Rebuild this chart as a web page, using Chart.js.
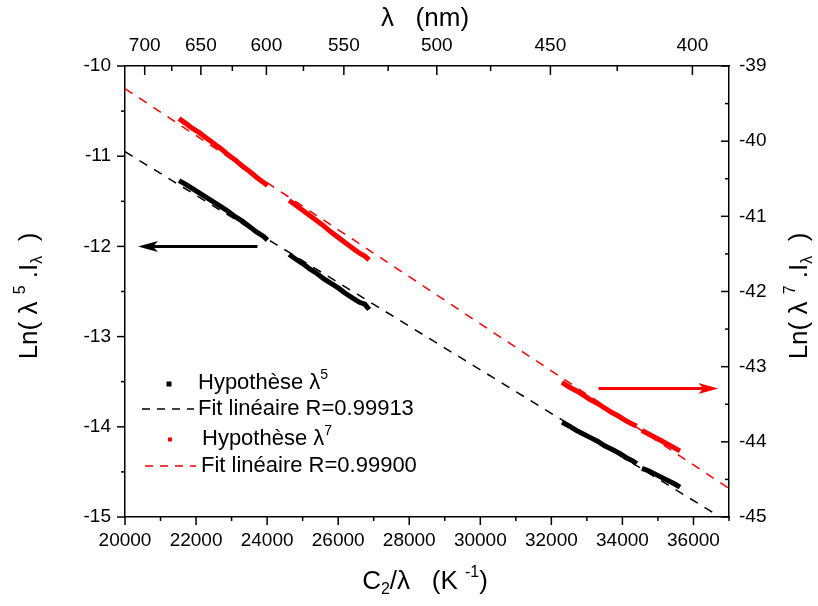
<!DOCTYPE html>
<html>
<head>
<meta charset="utf-8">
<script src="https://cdn.jsdelivr.net/npm/chart.js@4.4.1/dist/chart.umd.min.js"></script>
<style>
  body { margin: 0; background: #fff; }
  #wrap { width: 818px; height: 606px; }
</style>
</head>
<body>
<div id="wrap"><canvas id="c" width="818" height="606"></canvas></div>
<script>
// C2 in nm.K
const C2 = 14388000;

// sampled C2/lambda values (null = gap between recorded pieces)
const sampleX = [
  21520, 21700, 21900, 22100, 22300, 22500, 22700, 22900, 23100, 23300, 23500, 23700, 23900, 24010, null,
  24620, 24800, 25000, 25200, 25400, 25600, 25800, 26000, 26200, 26400, 26600, 26750, 26870, null,
  32300, 32500, 32700, 32900, 33100, 33300, 33500, 33700, 33900, 34100, 34300, 34400, null,
  34550, 34750, 34950, 35150, 35350, 35500, 35620
];
// Ln(lambda^5 . I) -> left axis
const lnL5 = [
  -11.27, -11.31, -11.36, -11.41, -11.46, -11.51, -11.56, -11.61, -11.67, -11.72, -11.78, -11.84, -11.89, -11.93, null,
  -12.09, -12.14, -12.19, -12.25, -12.30, -12.36, -12.41, -12.46, -12.52, -12.57, -12.62, -12.64, -12.70, null,
  -13.95, -13.99, -14.04, -14.08, -14.12, -14.16, -14.21, -14.25, -14.29, -14.34, -14.38, -14.41, null,
  -14.46, -14.49, -14.53, -14.57, -14.61, -14.64, -14.67
];
// Ln(lambda^7 . I) -> right axis
const lnL7 = [
  -39.70, -39.76, -39.83, -39.89, -39.96, -40.03, -40.10, -40.18, -40.25, -40.33, -40.40, -40.48, -40.55, -40.59, null,
  -40.79, -40.85, -40.92, -40.99, -41.06, -41.13, -41.21, -41.28, -41.35, -41.42, -41.49, -41.53, -41.58, null,
  -43.21, -43.27, -43.32, -43.38, -43.44, -43.49, -43.55, -43.61, -43.66, -43.72, -43.77, -43.79, null,
  -43.85, -43.90, -43.95, -44.00, -44.05, -44.09, -44.12
];

// linear fits (end points)
const fitX = [20000, 37000];
const fit5Y = [-10.95, -15.06];
const fit7Y = [-39.30, -44.62];

// ticks
const xTicks = [20000, 22000, 24000, 26000, 28000, 30000, 32000, 34000, 36000];
const yTicks = [-15, -14, -13, -12, -11, -10];
const y2Ticks = [-45, -44, -43, -42, -41, -40, -39];
const lambdaTicks = [700, 650, 600, 550, 500, 450, 400];

const FONT = '"Liberation Sans", Arial, sans-serif';

function pts(xs, ys) {
  return xs.map((x, i) => (x === null ? { x: NaN, y: null } : { x: x, y: ys[i] }));
}

// minor ticks halfway between the major ones
function halves(arr) {
  const out = [];
  for (let i = 0; i < arr.length - 1; i++) out.push((arr[i] + arr[i + 1]) / 2);
  return out;
}

function drawRich(ctx, parts, x, y, size, align) {
  const fontOf = p => (p[1] ? Math.round(size * 0.62) : size) + 'px ' + FONT;
  let w = 0;
  parts.forEach(p => { ctx.font = fontOf(p); w += ctx.measureText(p[0]).width; });
  let cx = align === 'center' ? x - w / 2 : x;
  ctx.textAlign = 'left';
  ctx.textBaseline = 'middle';
  parts.forEach(p => {
    ctx.font = fontOf(p);
    let dy = 0;
    if (p[1] === 'sup') dy = -size * 0.36;
    if (p[1] === 'sub') dy = size * 0.3;
    ctx.fillText(p[0], cx, y + dy);
    cx += ctx.measureText(p[0]).width;
  });
}

function arrow(ctx, x1, x2, y, color) {
  const dir = Math.sign(x2 - x1);
  const head = 20, half = 5.5;
  ctx.strokeStyle = color;
  ctx.fillStyle = color;
  ctx.lineWidth = 3;
  ctx.beginPath();
  ctx.moveTo(x1, y);
  ctx.lineTo(x2 - dir * head * 0.6, y);
  ctx.stroke();
  ctx.beginPath();
  ctx.moveTo(x2, y);
  ctx.lineTo(x2 - dir * head, y - half);
  ctx.lineTo(x2 - dir * head * 0.75, y);
  ctx.lineTo(x2 - dir * head, y + half);
  ctx.closePath();
  ctx.fill();
}

const decor = {
  id: 'decor',
  afterDraw(chart) {
    const ctx = chart.ctx;
    const s = chart.scales;
    const a = chart.chartArea;
    ctx.save();
    ctx.strokeStyle = '#000';
    ctx.lineWidth = 1.5;

    function tick(x1, y1, x2, y2) {
      ctx.beginPath(); ctx.moveTo(x1, y1); ctx.lineTo(x2, y2); ctx.stroke();
    }
    // bottom: outward
    xTicks.forEach(v => { const p = s.x.getPixelForValue(v); tick(p, a.bottom, p, a.bottom + 8); });
    halves(xTicks.concat([38000])).forEach(v => {
      if (v <= 37000) { const p = s.x.getPixelForValue(v); tick(p, a.bottom, p, a.bottom + 4); }
    });
    // left: outward
    yTicks.forEach(v => { const p = s.y.getPixelForValue(v); tick(a.left - 8, p, a.left, p); });
    halves(yTicks).forEach(v => { const p = s.y.getPixelForValue(v); tick(a.left - 4, p, a.left, p); });
    // right: inward
    y2Ticks.forEach(v => { const p = s.y2.getPixelForValue(v); tick(a.right - 8, p, a.right, p); });
    halves(y2Ticks).forEach(v => { const p = s.y2.getPixelForValue(v); tick(a.right - 4, p, a.right, p); });
    // top (lambda): inward
    lambdaTicks.forEach(l => { const p = s.xTop.getPixelForValue(C2 / l); tick(p, a.top, p, a.top + 9); });
    halves(lambdaTicks).forEach(l => { const p = s.xTop.getPixelForValue(C2 / l); tick(p, a.top, p, a.top + 5); });

    // arrows
    arrow(ctx, s.x.getPixelForValue(23729), s.x.getPixelForValue(20365), s.y.getPixelForValue(-12), '#000');
    arrow(ctx, s.x.getPixelForValue(33327), s.x.getPixelForValue(36699), s.y2.getPixelForValue(-43.29), '#ff0000');

    // legend
    const LS = 22;
    ctx.fillStyle = '#000';
    ctx.fillRect(166.5, 381.5, 5, 5);
    drawRich(ctx, [['Hypothèse λ'], ['5', 'sup']], 198, 383, LS, 'left');
    ctx.strokeStyle = '#000';
    ctx.lineWidth = 1.5;
    ctx.setLineDash([8, 7]);
    tick(142, 409, 194, 409);
    ctx.setLineDash([]);
    drawRich(ctx, [['Fit linéaire R=0.99913']], 198, 409, LS, 'left');
    ctx.fillStyle = '#ff0000';
    ctx.fillRect(168, 437.5, 4, 4);
    ctx.fillStyle = '#000';
    drawRich(ctx, [['Hypothèse λ'], ['7', 'sup']], 202, 439, LS, 'left');
    ctx.strokeStyle = '#ff0000';
    ctx.setLineDash([8, 7]);
    tick(145, 466, 196, 466);
    ctx.setLineDash([]);
    drawRich(ctx, [['Fit linéaire R=0.99900']], 201, 466, LS, 'left');

    // axis titles
    ctx.fillStyle = '#000';
    drawRich(ctx, [['C'], ['2', 'sub'], ['/λ   (K '], ['-1', 'sup'], [')']], 425, 582, 26, 'center');
    drawRich(ctx, [['λ   (nm)']], 425, 19, 26, 'center');
    ctx.save();
    ctx.translate(30, 296);
    ctx.rotate(-Math.PI / 2);
    drawRich(ctx, [['Ln( λ '], ['5', 'sup'], [' .I'], ['λ', 'sub'], ['  )']], 0, 0, 26, 'center');
    ctx.restore();
    ctx.save();
    ctx.translate(800, 296);
    ctx.rotate(-Math.PI / 2);
    drawRich(ctx, [['Ln( λ '], ['7', 'sup'], [' .I'], ['λ', 'sub'], ['  )']], 0, 0, 26, 'center');
    ctx.restore();

    ctx.restore();
  }
};

const tickFont = { family: FONT, size: 19 };
const border = { display: true, color: '#000', width: 1.5 };
const noGrid = { display: false, drawTicks: false };

new Chart(document.getElementById('c'), {
  type: 'scatter',
  data: {
    datasets: [
      {
        label: 'Fit linéaire R=0.99913',
        data: pts(fitX, fit5Y),
        yAxisID: 'y',
        showLine: true,
        borderColor: '#000',
        borderWidth: 1.5,
        borderDash: [9, 8],
        pointRadius: 0
      },
      {
        label: 'Fit linéaire R=0.99900',
        data: pts(fitX, fit7Y),
        yAxisID: 'y2',
        showLine: true,
        borderColor: '#ff0000',
        borderWidth: 1.5,
        borderDash: [9, 8],
        pointRadius: 0
      },
      {
        label: 'Hypothèse λ5',
        data: pts(sampleX, lnL5),
        yAxisID: 'y',
        showLine: true,
        spanGaps: false,
        borderColor: '#000',
        borderWidth: 5,
        pointRadius: 0
      },
      {
        label: 'Hypothèse λ7',
        data: pts(sampleX, lnL7),
        yAxisID: 'y2',
        showLine: true,
        spanGaps: false,
        borderColor: '#ff0000',
        borderWidth: 5,
        pointRadius: 0
      }
    ]
  },
  options: {
    responsive: false,
    animation: false,
    layout: { padding: 0 },
    plugins: { legend: { display: false }, tooltip: { enabled: false } },
    scales: {
      x: {
        type: 'linear', position: 'bottom', min: 20000, max: 37000,
        grid: noGrid, border: border,
        afterBuildTicks: sc => { sc.ticks = xTicks.map(v => ({ value: v })); },
        afterFit: sc => { sc.height = 89; },
        ticks: { font: tickFont, color: '#000', padding: 12, maxRotation: 0, callback: v => String(v) }
      },
      xTop: {
        type: 'linear', position: 'top', min: 20000, max: 37000,
        grid: noGrid, border: border,
        afterBuildTicks: sc => { sc.ticks = lambdaTicks.map(l => ({ value: C2 / l })); },
        afterFit: sc => { sc.height = 66; },
        ticks: { font: tickFont, color: '#000', padding: 9, maxRotation: 0, callback: v => String(Math.round(C2 / v)) }
      },
      y: {
        type: 'linear', position: 'left', min: -15, max: -10,
        grid: noGrid, border: border,
        afterBuildTicks: sc => { sc.ticks = yTicks.map(v => ({ value: v })); },
        afterFit: sc => { sc.width = 125; },
        ticks: { font: tickFont, color: '#000', padding: 14, callback: v => String(v) }
      },
      y2: {
        type: 'linear', position: 'right', min: -45, max: -39,
        grid: noGrid, border: border,
        afterBuildTicks: sc => { sc.ticks = y2Ticks.map(v => ({ value: v })); },
        afterFit: sc => { sc.width = 89; },
        ticks: { font: tickFont, color: '#000', padding: 10, callback: v => String(v) }
      }
    }
  },
  plugins: [decor]
});
</script>
</body>
</html>
